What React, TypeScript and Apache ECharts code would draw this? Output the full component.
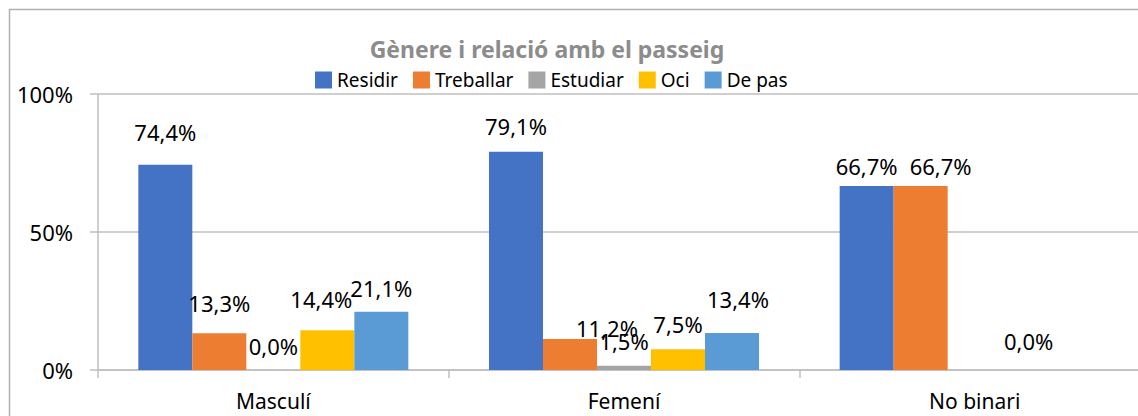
import React, { useEffect, useRef } from "react";
import * as echarts from "echarts";

const categories = ["Masculí", "Femení", "No binari"];
const seriesNames = ["Residir", "Treballar", "Estudiar", "Oci", "De pas"];
const residir = [74.4, 79.1, 66.7];
const treballar = [13.3, 11.2, 66.7];
const estudiar: (number | null)[] = [0.0, 1.5, null];
const oci = [14.4, 7.5, 0.0];
const dePas: (number | null)[] = [21.1, 13.4, null];
const yTicks = [0, 50, 100];
const colors = ["#4472C4", "#ED7D31", "#A5A5A5", "#FFC000", "#5B9BD5"];

// label placement tweaks (style only): [distance, dx] per series per category
const labelTweaks: [number, number][][] = [
  [[22, 0], [15, 0], [9, 0]],
  [[19, 0], [0, 37], [9, 20]],
  [[13, 0], [14, 0], [14, 0]],
  [[20, -6], [14, 0], [18, 0]],
  [[13, 0], [23, 6], [14, 0]],
];

const FONT = "Noto Sans";

export default function App() {
  const ref = useRef<HTMLDivElement>(null);
  useEffect(() => {
    document.body.style.margin = "0";
    const chart = echarts.init(ref.current!, null, { renderer: "svg" });
    const allData = [residir, treballar, estudiar, oci, dePas];
    const fmt = (v: number) => v.toFixed(1).replace(".", ",") + "%";
    chart.setOption({
      animation: false,
      textStyle: { fontFamily: FONT },
      title: {
        text: "Gènere i relació amb el passeig",
        left: 547,
        top: 35,
        padding: 0,
        textAlign: "center",
        textStyle: { fontFamily: FONT, fontSize: 23, fontWeight: "bold", color: "#8c8c8c", lineHeight: 28 },
      },
      legend: {
        data: seriesNames,
        left: 315,
        top: 70,
        padding: 0,
        itemWidth: 17,
        itemHeight: 17,
        itemGap: 15,
        icon: "rect",
        textStyle: { fontFamily: FONT, fontSize: 19, color: "#000", lineHeight: 20 },
      },
      graphic: [
        {
          type: "rect",
          shape: { x: 9.5, y: 9.5, width: 1400, height: 700 },
          style: { fill: "none", stroke: "#b0b0b0", lineWidth: 1.5 },
          silent: true,
        },
      ],
      grid: { left: 98, top: 94, width: 1052, height: 276, outerBoundsMode: "none", containLabel: false },
      xAxis: {
        type: "category",
        data: categories,
        axisLine: { lineStyle: { color: "#bfbfbf", width: 1.5 } },
        axisTick: { show: true, length: 8, lineStyle: { color: "#bfbfbf", width: 1.5 } },
        axisLabel: { color: "#000", fontSize: 21, fontFamily: FONT, margin: 20 },
      },
      yAxis: {
        type: "value",
        min: 0,
        max: 100,
        interval: 50,
        axisLine: { show: true, lineStyle: { color: "#bfbfbf", width: 1.5 } },
        axisTick: { show: true, length: 8, lineStyle: { color: "#bfbfbf", width: 1.5 } },
        splitLine: { show: true, lineStyle: { color: "#bfbfbf", width: 1.5 } },
        axisLabel: {
          color: "#000",
          fontSize: 22,
          fontFamily: FONT,
          margin: 25,
          formatter: (v: number) => (yTicks.includes(v) ? `${v}%` : ""),
        },
      },
      series: seriesNames.map((name, si) => ({
        name,
        type: "bar",
        barGap: "0%",
        barCategoryGap: "23%",
        itemStyle: { color: colors[si] },
        data: allData[si].map((v, ci) =>
          v === null
            ? null
            : {
                value: v,
                label: {
                  distance: labelTweaks[si][ci][0],
                  offset: [labelTweaks[si][ci][1], 0],
                },
              }
        ),
        label: {
          show: true,
          position: "top",
          color: "#000",
          fontSize: 22,
          fontFamily: FONT,
          formatter: (p: any) => fmt(p.value),
        },
      })),
    });
    return () => chart.dispose();
  }, []);
  return <div ref={ref} style={{ width: 1138, height: 416 }} />;
}
